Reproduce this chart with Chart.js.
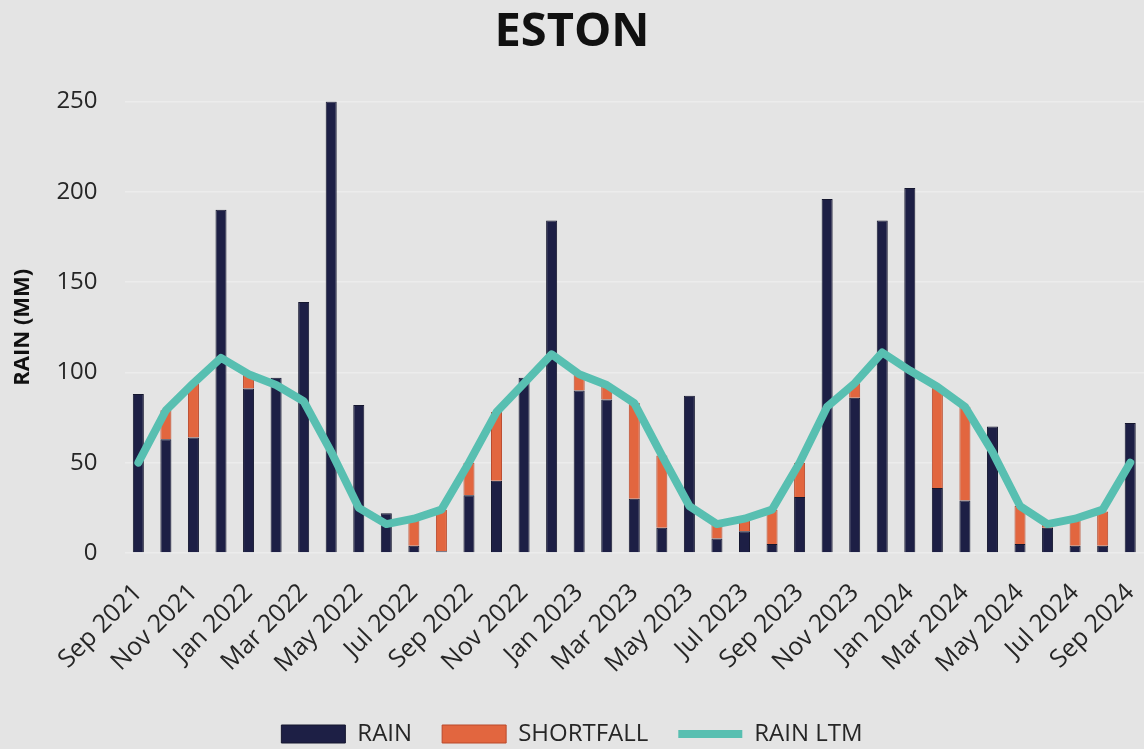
<!DOCTYPE html>
<html>
<head>
<meta charset="utf-8">
<script src="https://cdn.jsdelivr.net/npm/chart.js@4.4.0/dist/chart.umd.min.js"></script>
<style>
  html, body { margin: 0; padding: 0; background: #e4e4e4; }
  #wrap { width: 1144px; height: 749px; position: relative; }
</style>
</head>
<body>
<div id="wrap"><canvas id="c" width="1144" height="749"></canvas></div>
<script>
const months = ["Sep 2021","Oct 2021","Nov 2021","Dec 2021","Jan 2022","Feb 2022","Mar 2022","Apr 2022","May 2022","Jun 2022","Jul 2022","Aug 2022",
  "Sep 2022","Oct 2022","Nov 2022","Dec 2022","Jan 2023","Feb 2023","Mar 2023","Apr 2023","May 2023","Jun 2023","Jul 2023","Aug 2023",
  "Sep 2023","Oct 2023","Nov 2023","Dec 2023","Jan 2024","Feb 2024","Mar 2024","Apr 2024","May 2024","Jun 2024","Jul 2024","Aug 2024","Sep 2024"];

const rain = [88,63,64,190,91,97,139,250,82,22,4,1,
  32,40,97,184,90,85,30,14,87,8,12,5,
  31,196,86,184,202,36,29,70,5,14,4,4,72];

const shortfall = [0,16,30,0,8,0,0,0,0,0,15,23,
  18,38,0,0,9,8,53,40,0,8,7,19,
  19,0,8,0,0,56,52,0,21,2,15,19,0];

const rainLTM = [50,79,94,108,99,93,84,56,25,16,19,24,
  50,78,94,110,99,93,83,54,26,16,19,24,
  50,81,94,111,101,92,81,56,26,16,19,24,50];

const yTicks = [0,50,100,150,200,250];

const FONT = "'Open Sans', sans-serif";
const TXT = '#262626';

const bgPlugin = {
  id: 'bg',
  beforeDraw(chart) {
    const ctx = chart.ctx;
    ctx.save();
    ctx.fillStyle = '#e4e4e4';
    ctx.fillRect(0, 0, chart.width, chart.height);
    ctx.restore();
  }
};

const legendShift = {
  id: 'legendShift',
  afterLayout(chart) {
    const lg = chart.legend;
    if (lg) { lg.top += 7; lg.bottom += 7; }
  }
};

new Chart(document.getElementById('c'), {
  type: 'bar',
  data: {
    labels: months,
    datasets: [
      {
        label: 'RAIN',
        data: rain,
        backgroundColor: '#1d1f45',
        borderColor: '#15172f',
        borderWidth: 1,
        barPercentage: 0.8,
        categoryPercentage: 0.5,
        order: 1,
        pointStyle: 'rect'
      },
      {
        label: 'SHORTFALL',
        data: shortfall,
        backgroundColor: '#e2663f',
        borderColor: '#b9492b',
        borderWidth: 1,
        barPercentage: 0.8,
        categoryPercentage: 0.5,
        order: 1,
        pointStyle: 'rect'
      },
      {
        type: 'line',
        label: 'RAIN LTM',
        data: rainLTM,
        borderColor: '#58bfb1',
        backgroundColor: '#58bfb1',
        borderWidth: 8,
        borderCapStyle: 'round',
        borderJoinStyle: 'round',
        pointRadius: 0,
        tension: 0,
        stack: 'ltm',
        order: 0,
        pointStyle: 'line'
      }
    ]
  },
  options: {
    responsive: false,
    animation: false,
    devicePixelRatio: 1,
    layout: { padding: { left: 0, right: 0, top: 4, bottom: 0 } },
    plugins: {
      title: {
        display: true,
        text: 'ESTON',
        color: '#111',
        font: { family: FONT, size: 47, weight: 'bold' },
        padding: { top: 0, bottom: 41 }
      },
      legend: {
        position: 'bottom',
        labels: {
          usePointStyle: true,
          pointStyleWidth: 64,
          boxHeight: 18,
          color: TXT,
          font: { family: FONT, size: 24 },
          padding: 30,
          sort: (a, b) => a.datasetIndex - b.datasetIndex
        }
      },
      tooltip: { enabled: false }
    },
    scales: {
      x: {
        stacked: true,
        grid: { display: false, drawTicks: true, tickLength: 25 },
        border: { display: false },
        afterFit: (axis) => { axis.height = 132; axis.paddingLeft = 0; axis.paddingRight = 0; },
        ticks: {
          autoSkip: false,
          maxRotation: 45,
          minRotation: 45,
          color: TXT,
          font: { family: FONT, size: 25 },
          padding: 0,
          callback: function(v, i) { return i % 2 === 0 ? months[i] : ''; }
        }
      },
      y: {
        stacked: true,
        min: 0,
        max: 250,
        afterBuildTicks: (axis) => { axis.ticks = yTicks.map(v => ({ value: v })); },
        grid: { color: '#ececec', lineWidth: 1.5, drawTicks: false },
        border: { display: false },
        ticks: {
          color: TXT,
          font: { family: FONT, size: 24 },
          padding: 27
        },
        title: {
          display: true,
          text: 'RAIN (MM)',
          color: '#111',
          font: { family: FONT, size: 22, weight: 'bold' },
          padding: { top: 10, bottom: -7 }
        }
      }
    }
  },
  plugins: [bgPlugin, legendShift]
});
</script>
</body>
</html>
